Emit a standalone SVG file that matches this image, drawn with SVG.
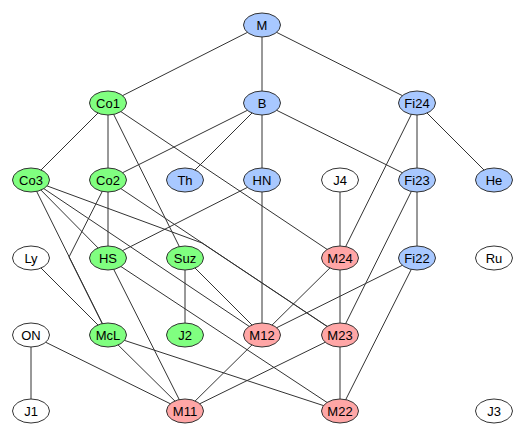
<svg xmlns="http://www.w3.org/2000/svg" width="525" height="439" viewBox="0 0 525 439">
<style>
.e line,.e path{stroke:#333;stroke-width:1;fill:none}
ellipse{stroke:#333;stroke-width:1}
.g{fill:#80ff80}.b{fill:#a8c8ff}.r{fill:#ffa6a6}.w{fill:#fff}
text{font-family:"Liberation Sans",Arial,sans-serif;font-size:13px;text-anchor:middle;dominant-baseline:central;fill:#000}
</style>
<rect width="525" height="439" fill="#fff"/>
<g id="connectors" class="e">
<line x1="262" y1="25" x2="108" y2="103"/>
<line x1="262" y1="25" x2="262" y2="103"/>
<line x1="262" y1="25" x2="417" y2="103"/>
<line x1="108" y1="103" x2="31" y2="180"/>
<line x1="108" y1="103" x2="108" y2="180"/>
<line x1="108" y1="103" x2="185" y2="258"/>
<line x1="108" y1="103" x2="340" y2="258"/>
<line x1="262" y1="103" x2="108" y2="180"/>
<line x1="262" y1="103" x2="185" y2="180"/>
<line x1="262" y1="103" x2="262" y2="180"/>
<line x1="262" y1="103" x2="417" y2="180"/>
<line x1="417" y1="103" x2="417" y2="180"/>
<line x1="417" y1="103" x2="494" y2="180"/>
<line x1="417" y1="103" x2="340" y2="258"/>
<line x1="31" y1="180" x2="108" y2="258"/>
<line x1="31" y1="180" x2="108" y2="335"/>
<line x1="31" y1="180" x2="262" y2="335"/>
<path d="M31 180 L202 243 L340 335"/>
<line x1="108" y1="180" x2="108" y2="258"/>
<path d="M108 180 L69 257 L108 335"/>
<line x1="108" y1="180" x2="340" y2="335"/>
<line x1="262" y1="180" x2="108" y2="258"/>
<line x1="262" y1="180" x2="262" y2="335"/>
<line x1="340" y1="180" x2="340" y2="258"/>
<line x1="417" y1="180" x2="417" y2="258"/>
<line x1="417" y1="180" x2="340" y2="335"/>
<line x1="31" y1="258" x2="108" y2="335"/>
<line x1="108" y1="258" x2="185" y2="411"/>
<line x1="108" y1="258" x2="340" y2="411"/>
<line x1="185" y1="258" x2="185" y2="335"/>
<line x1="185" y1="258" x2="262" y2="335"/>
<line x1="340" y1="258" x2="262" y2="335"/>
<line x1="340" y1="258" x2="340" y2="335"/>
<line x1="417" y1="258" x2="262" y2="335"/>
<line x1="417" y1="258" x2="340" y2="411"/>
<line x1="31" y1="335" x2="31" y2="411"/>
<line x1="31" y1="335" x2="185" y2="411"/>
<line x1="108" y1="335" x2="185" y2="411"/>
<line x1="108" y1="335" x2="340" y2="411"/>
<line x1="262" y1="335" x2="185" y2="411"/>
<line x1="340" y1="335" x2="185" y2="411"/>
<line x1="340" y1="335" x2="340" y2="411"/>
</g>
<g id="M"><ellipse class="b" cx="262" cy="25" rx="18.5" ry="12"/><text x="262" y="25">M</text></g>
<g id="Co1"><ellipse class="g" cx="108" cy="103" rx="18.5" ry="12"/><text x="108" y="103">Co1</text></g>
<g id="B"><ellipse class="b" cx="262" cy="103" rx="18.5" ry="12"/><text x="262" y="103">B</text></g>
<g id="Fi24"><ellipse class="b" cx="417" cy="103" rx="18.5" ry="12"/><text x="417" y="103">Fi24</text></g>
<g id="Co3"><ellipse class="g" cx="31" cy="180" rx="18.5" ry="12"/><text x="31" y="180">Co3</text></g>
<g id="Co2"><ellipse class="g" cx="108" cy="180" rx="18.5" ry="12"/><text x="108" y="180">Co2</text></g>
<g id="Th"><ellipse class="b" cx="185" cy="180" rx="18.5" ry="12"/><text x="185" y="180">Th</text></g>
<g id="HN"><ellipse class="b" cx="262" cy="180" rx="18.5" ry="12"/><text x="262" y="180">HN</text></g>
<g id="J4"><ellipse class="w" cx="340" cy="180" rx="18.5" ry="12"/><text x="340" y="180">J4</text></g>
<g id="Fi23"><ellipse class="b" cx="417" cy="180" rx="18.5" ry="12"/><text x="417" y="180">Fi23</text></g>
<g id="He"><ellipse class="b" cx="494" cy="180" rx="18.5" ry="12"/><text x="494" y="180">He</text></g>
<g id="Ly"><ellipse class="w" cx="31" cy="258" rx="18.5" ry="12"/><text x="31" y="258">Ly</text></g>
<g id="HS"><ellipse class="g" cx="108" cy="258" rx="18.5" ry="12"/><text x="108" y="258">HS</text></g>
<g id="Suz"><ellipse class="g" cx="185" cy="258" rx="18.5" ry="12"/><text x="185" y="258">Suz</text></g>
<g id="M24"><ellipse class="r" cx="340" cy="258" rx="18.5" ry="12"/><text x="340" y="258">M24</text></g>
<g id="Fi22"><ellipse class="b" cx="417" cy="258" rx="18.5" ry="12"/><text x="417" y="258">Fi22</text></g>
<g id="Ru"><ellipse class="w" cx="494" cy="258" rx="18.5" ry="12"/><text x="494" y="258">Ru</text></g>
<g id="ON"><ellipse class="w" cx="31" cy="335" rx="18.5" ry="12"/><text x="31" y="335">ON</text></g>
<g id="McL"><ellipse class="g" cx="108" cy="335" rx="18.5" ry="12"/><text x="108" y="335">McL</text></g>
<g id="J2"><ellipse class="g" cx="185" cy="335" rx="18.5" ry="12"/><text x="185" y="335">J2</text></g>
<g id="M12"><ellipse class="r" cx="262" cy="335" rx="18.5" ry="12"/><text x="262" y="335">M12</text></g>
<g id="M23"><ellipse class="r" cx="340" cy="335" rx="18.5" ry="12"/><text x="340" y="335">M23</text></g>
<g id="J1"><ellipse class="w" cx="31" cy="411" rx="18.5" ry="12"/><text x="31" y="411">J1</text></g>
<g id="M11"><ellipse class="r" cx="185" cy="411" rx="18.5" ry="12"/><text x="185" y="411">M11</text></g>
<g id="M22"><ellipse class="r" cx="340" cy="411" rx="18.5" ry="12"/><text x="340" y="411">M22</text></g>
<g id="J3"><ellipse class="w" cx="494" cy="411" rx="18.5" ry="12"/><text x="494" y="411">J3</text></g>
</svg>
